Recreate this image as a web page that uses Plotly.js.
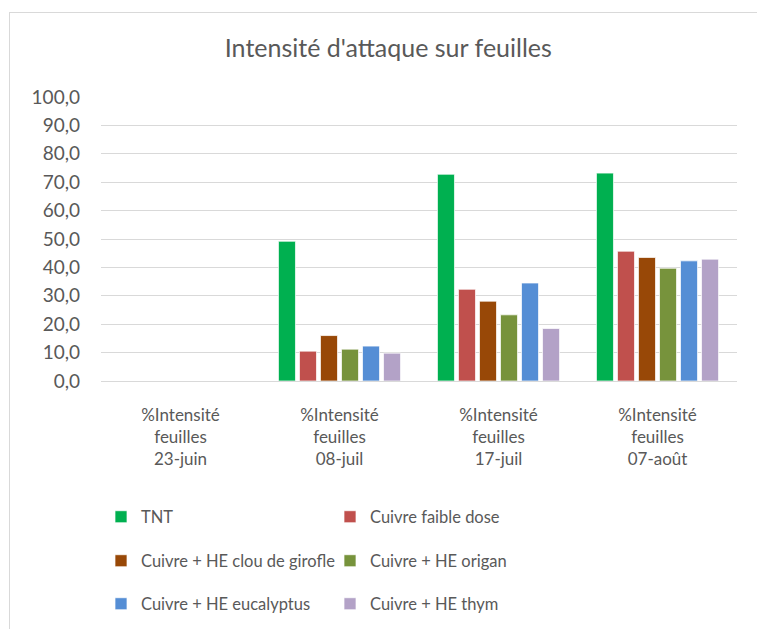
<!DOCTYPE html>
<html>
<head>
<meta charset="utf-8">
<script src="https://cdn.plot.ly/plotly-3.0.1.min.js"></script>
<style>
html,body{margin:0;padding:0;background:#fff;}
#wrap{position:relative;width:757px;height:629px;}
#chart{position:absolute;left:0;top:0;width:757px;height:629px;}
#frame{position:absolute;left:9px;top:12px;width:760px;height:640px;border-top:1px solid #d9d9d9;border-left:1px solid #d9d9d9;pointer-events:none;}
</style>
</head>
<body>
<div id="wrap"><div id="chart"></div><div id="frame"></div></div>
<script>
var categories = ["%Intensité<br>feuilles<br>23-juin", "%Intensité<br>feuilles<br>08-juil", "%Intensité<br>feuilles<br>17-juil", "%Intensité<br>feuilles<br>07-août"];
var seriesNames = ["TNT", "Cuivre faible dose", "Cuivre + HE clou de girofle", "Cuivre + HE origan", "Cuivre + HE eucalyptus", "Cuivre + HE thym"];
var tnt        = [0, 49.2, 72.8, 73.2];
var cuivreFD   = [0, 10.5, 32.3, 45.7];
var girofle    = [0, 16.0, 28.1, 43.5];
var origan     = [0, 11.2, 23.3, 39.7];
var eucalyptus = [0, 12.3, 34.5, 42.3];
var thym       = [0, 9.8, 18.5, 42.9];
var colors = ["#00B050", "#C0504D", "#984807", "#77933C", "#558ED5", "#B3A2C7"];
var yTicks = [0,10,20,30,40,50,60,70,80,90,100];

var values = [tnt, cuivreFD, girofle, origan, eucalyptus, thym];
var legendIds = ["legend", "legend", "legend2", "legend2", "legend3", "legend3"];
var traces = values.map(function(v, i){
  return {
    type: "bar",
    name: seriesNames[i],
    x: categories,
    y: v,
    legend: legendIds[i],
    marker: {color: colors[i], line: {color: "rgba(255,255,255,0.7)", width: 1}},
    hoverinfo: "y+name"
  };
});

var fontFam = "Lato, 'Open Sans', sans-serif";
function legendAt(y){
  return {
    orientation: "h", x: 0, xanchor: "left", y: y, yanchor: "middle",
    xref: "paper", yref: "container",
    entrywidth: 184, entrywidthmode: "pixels",
    font: {family: fontFam, size: 16.5, color: "#595959"},
    bgcolor: "rgba(0,0,0,0)", itemclick: false, itemdoubleclick: false,
    traceorder: "normal"
  };
}

var layout = {
  width: 757, height: 629,
  margin: {l: 101, r: 20, t: 97, b: 248},
  paper_bgcolor: "#ffffff", plot_bgcolor: "#ffffff",
  separators: ", ",
  font: {family: fontFam, color: "#595959"},
  title: {text: "Intensité d'attaque sur feuilles", x: 0.513, xanchor: "center", y: 0.923, yanchor: "middle",
          font: {family: fontFam, size: 25, color: "#595959"}},
  barmode: "group",
  bargap: 0.207,
  bargroupgap: 0.19,
  showlegend: true,
  legend: legendAt(1 - 517/629),
  legend2: legendAt(1 - 561/629),
  legend3: legendAt(1 - 604/629),
  xaxis: {
    type: "category",
    showgrid: false, zeroline: false, showline: false, ticks: "",
    tickfont: {family: fontFam, size: 17, color: "#595959"},
    ticklabelstandoff: 22
  },
  yaxis: {
    range: [0, 100], tickvals: yTicks, tickformat: ".1f",
    showgrid: true, gridcolor: "#d9d9d9", gridwidth: 1,
    zeroline: true, zerolinecolor: "#d9d9d9", zerolinewidth: 1,
    showline: false, ticks: "",
    tickfont: {family: fontFam, size: 19, color: "#595959"},
    ticklabelstandoff: 20,
    fixedrange: true
  }
};

Plotly.newPlot("chart", traces, layout, {displayModeBar: false});
</script>
</body>
</html>
